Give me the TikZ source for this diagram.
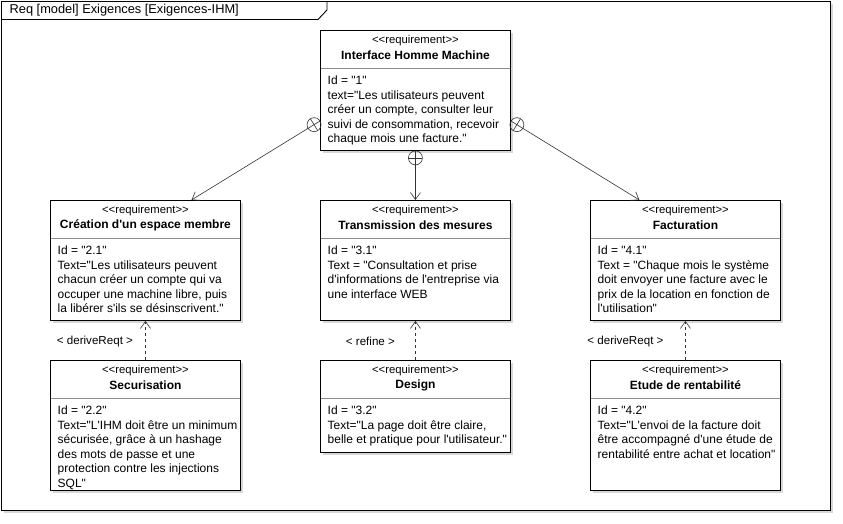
\documentclass[tikz,border=0pt]{standalone}
\usepackage{fontspec}
\setmainfont{Liberation Sans}[Ligatures=TeXReset]
\usetikzlibrary{calc,arrows.meta,shadows}
\begin{document}
\begin{tikzpicture}[x=1pt,y=-1pt,
  boxshadow/.style={drop shadow={shadow xshift=2.5pt,shadow yshift=-2.5pt,opacity=0.22,fill=black!70}},
  reqbox/.style={draw=black,fill=white,line width=0.9pt,inner sep=0pt,
    anchor=north west,minimum width=190pt,boxshadow},
  divider/.style={draw=black!45,line width=0.7pt},
  stereo/.style={inner sep=0pt,font=\fontsize{11.3}{12}\selectfont},
  reqtitle/.style={inner sep=0pt,font=\fontsize{12}{14}\selectfont\bfseries},
  bodytext/.style={inner sep=0pt,anchor=north west,align=left,
    font=\fontsize{12}{14.6}\selectfont},
  rellabel/.style={inner sep=0pt,font=\fontsize{11.6}{13}\selectfont},
  contain/.style={line width=0.6pt,draw=black!80},
  link/.style={line width=0.6pt,draw=black!80,-{Straight Barb[length=7pt,width=10pt]}},
  dlink/.style={link,dash pattern=on 3pt off 3pt}]

% page
\useasboundingbox (0,0) rectangle (843,523);
\fill[white] (0,0) rectangle (843,523);

% diagram frame and its name tab
\draw[black,line width=0.9pt,fill=white,boxshadow] (1,1) rectangle (830,510);
\draw[black,line width=0.9pt] (1,19.5) -- (318,19.5) -- (327,10) -- (327,1);
\node[anchor=west,inner sep=0pt,font=\fontsize{12.8}{14}\selectfont] (frametitle) at (9.5,10.5)
  {Req [model] Exigences [Exigences-IHM]};

% requirement block: name, x, y, height, title, body
\newcommand\reqblock[6]{%
  \node[reqbox,minimum height=#4pt] (#1) at (#2,#3) {};
  \draw[divider] ($(#1.north west)+(0.5,38.5)$) -- ($(#1.north east)+(-0.5,38.5)$);
  \node[stereo] (#1-st) at ($(#1.north)+(0,11)$) {<<requirement>>};
  \node[reqtitle] (#1-ti) at ($(#1.north)+(0,25)$) {#5};
  \node[bodytext] (#1-bd) at ($(#1.north west)+(7.5,45.5)$) {#6};
}

\reqblock{ihm}{320}{30}{120}{Interface Homme Machine}
  {Id = "1"\\text="Les utilisateurs peuvent\\créer un compte, consulter leur\\suivi de consommation, recevoir\\chaque mois une facture."}

\reqblock{crea}{50}{200}{120}{Création d'un espace membre}
  {Id = "2.1"\\Text="Les utilisateurs peuvent\\chacun créer un compte qui va\\occuper une machine libre, puis\\la libérer s'ils se désinscrivent."}

\reqblock{trans}{320}{200}{120}{Transmission des mesures}
  {Id = "3.1"\\Text = "Consultation et prise\\d'informations de l'entreprise via\\une interface WEB}

\reqblock{fact}{590}{200}{120}{Facturation}
  {Id = "4.1"\\Text = "Chaque mois le système\\doit envoyer une facture avec le\\prix de la location en fonction de\\l'utilisation"}

\reqblock{secu}{50}{360}{130}{Securisation}
  {Id = "2.2"\\Text="L'IHM doit être un minimum\\sécurisée, grâce à un hashage\\des mots de passe et une\\protection contre les injections\\SQL"}

\reqblock{design}{320}{360}{92}{Design}
  {Id = "3.2"\\Text="La page doit être claire,\\belle et pratique pour l'utilisateur."}

\reqblock{etude}{590}{360}{130}{Etude de rentabilité}
  {Id = "4.2"\\Text="L'envoi de la facture doit\\être accompagné d'une étude de\\rentabilité entre achat et location"}

% containment connectors with their circled-plus ends
\coordinate (ihm-l) at ($(ihm.north west)+(0,91)$);
\coordinate (ihm-r) at ($(ihm.north east)+(0,91)$);
\coordinate (ihm-b) at (ihm.south);
\coordinate (crea-t) at ($(crea.north)+(46,0)$);
\coordinate (fact-t) at ($(fact.north)+(-46,0)$);
\coordinate (trans-t) at (trans.north);

\foreach \s/\t in {ihm-l/crea-t, ihm-r/fact-t, ihm-b/trans-t}{
  \coordinate (mc) at ($(\s)!7pt!(\t)$);
  \draw[contain] (mc) circle (7pt);
  \draw[contain] (\s) -- ($(\s)!14pt!(\t)$);
  \draw[contain] ($(mc)!7pt!90:(\t)$) -- ($(mc)!7pt!-90:(\t)$);
  \draw[link] ($(\s)!14pt!(\t)$) -- (\t);
}

% derivation and refinement connectors
\draw[dlink] (secu.north) -- (crea.south);
\draw[dlink] (design.north) -- (trans.south);
\draw[dlink] (etude.north) -- (fact.south);

\node[rellabel] (lbl-secu) at ($(secu.north)!0.5!(crea.south)+(-50.5,1)$) {< deriveReqt >};
\node[rellabel] (lbl-design) at ($(design.north)!0.5!(trans.south)+(-45,1)$) {< refine >};
\node[rellabel] (lbl-etude) at ($(etude.north)!0.5!(fact.south)+(-60,1)$) {< deriveReqt >};

\end{tikzpicture}
\end{document}
